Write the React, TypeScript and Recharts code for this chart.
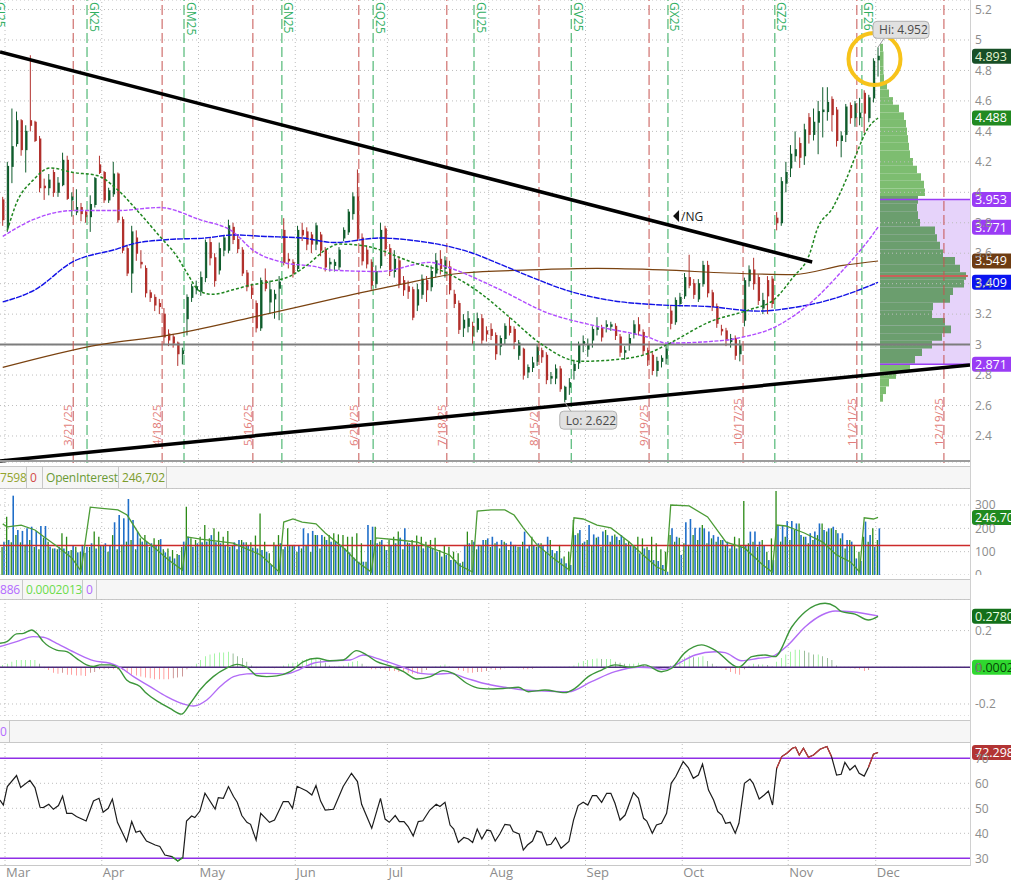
import React from 'react'
import { ComposedChart, Bar, Line, XAxis, YAxis, CartesianGrid, ReferenceLine, ReferenceArea, ReferenceDot, Cell } from 'recharts'

// x domain in bar index units (bar 0 = Feb 28)
const X0 = -0.59
const X1 = 209.96

// daily OHLC
const opens = [
  3.95, 3.77, 4.17, 4.32, 4.47, 4.28, 4.47, 4.46, 4.35, 4.04,
  4.03, 4.13, 4.00, 4.05, 4.21, 3.95, 3.87, 3.90, 3.87, 3.84,
  3.92, 4.18, 4.13, 3.95, 3.99, 4.12, 3.82, 3.63, 3.47, 3.70,
  3.54, 3.50, 3.34, 3.31, 3.27, 3.20, 3.07, 3.05, 3.01, 2.94,
  3.17, 3.31, 3.36, 3.35, 3.44, 3.67, 3.57, 3.49, 3.62, 3.62,
  3.77, 3.69, 3.62, 3.47, 3.37, 3.27, 3.11, 3.42, 3.28, 3.30,
  3.37, 3.75, 3.56, 3.54, 3.50, 3.75, 3.74, 3.72, 3.66, 3.72,
  3.62, 3.53, 3.52, 3.51, 3.70, 3.74, 3.86, 3.97, 3.70, 3.62,
  3.54, 3.40, 3.52, 3.76, 3.63, 3.48, 3.55, 3.42, 3.38, 3.36,
  3.26, 3.33, 3.42, 3.38, 3.47, 3.56, 3.50, 3.51, 3.33, 3.27,
  3.11, 3.12, 3.12, 3.10, 3.17, 3.09, 3.10, 3.06, 2.99, 3.04,
  3.12, 3.10, 2.93, 2.97, 2.82, 2.85, 2.89, 2.96, 2.93, 2.78,
  2.78, 2.84, 2.64, 2.72, 2.83, 2.88, 3.00, 2.97, 3.03, 3.10,
  3.11, 3.12, 3.12, 3.12, 3.05, 2.95, 3.00, 3.07, 3.13, 3.08,
  2.96, 2.93, 2.83, 2.89, 2.91, 3.22, 3.15, 3.27, 3.32, 3.44,
  3.40, 3.30, 3.40, 3.52, 3.34, 3.25, 3.10, 3.09, 3.02, 3.04,
  2.94, 3.16, 3.42, 3.49, 3.44, 3.24, 3.42, 3.43, 3.83, 3.80,
  4.06, 4.16, 4.24, 4.32, 4.24, 4.49, 4.38, 4.46, 4.53, 4.53,
  4.61, 4.54, 4.34, 4.38, 4.57, 4.49, 4.49, 4.65, 4.49, 4.62,
  4.87,
]
const highs = [
  3.97, 4.20, 4.55, 4.53, 4.48, 4.44, 4.90, 4.47, 4.37, 4.09,
  4.12, 4.15, 4.10, 4.26, 4.24, 4.00, 4.02, 3.93, 3.88, 3.98,
  4.10, 4.24, 4.14, 4.03, 4.20, 4.13, 3.84, 3.65, 3.78, 3.75,
  3.62, 3.52, 3.36, 3.33, 3.30, 3.24, 3.10, 3.07, 3.02, 2.98,
  3.33, 3.40, 3.42, 3.48, 3.69, 3.70, 3.60, 3.67, 3.72, 3.82,
  3.80, 3.72, 3.64, 3.49, 3.40, 3.29, 3.44, 3.50, 3.42, 3.36,
  3.45, 3.83, 3.60, 3.56, 3.78, 3.80, 3.77, 3.74, 3.80, 3.74,
  3.64, 3.57, 3.56, 3.64, 3.77, 3.89, 4.00, 4.15, 3.73, 3.65,
  3.56, 3.52, 3.80, 3.78, 3.66, 3.62, 3.58, 3.45, 3.42, 3.38,
  3.40, 3.46, 3.45, 3.52, 3.60, 3.62, 3.58, 3.55, 3.36, 3.29,
  3.20, 3.22, 3.15, 3.21, 3.20, 3.12, 3.14, 3.08, 3.06, 3.14,
  3.18, 3.12, 3.03, 2.98, 2.87, 2.92, 3.00, 2.98, 2.95, 2.82,
  2.87, 2.86, 2.73, 2.78, 2.90, 3.02, 3.06, 3.04, 3.12, 3.18,
  3.13, 3.16, 3.15, 3.14, 3.07, 2.99, 3.07, 3.16, 3.18, 3.10,
  2.98, 2.95, 2.92, 2.93, 2.99, 3.26, 3.31, 3.34, 3.47, 3.59,
  3.43, 3.43, 3.55, 3.55, 3.36, 3.27, 3.13, 3.11, 3.07, 3.06,
  3.03, 3.44, 3.52, 3.57, 3.46, 3.34, 3.45, 3.45, 3.87, 4.10,
  4.20, 4.31, 4.40, 4.36, 4.45, 4.52, 4.55, 4.60, 4.69, 4.69,
  4.63, 4.56, 4.40, 4.58, 4.59, 4.60, 4.62, 4.67, 4.64, 4.88,
  4.952,
]
const lows = [
  3.78, 3.74, 4.06, 4.30, 4.24, 4.13, 4.40, 4.33, 4.00, 3.95,
  3.98, 3.97, 3.97, 4.04, 3.95, 3.84, 3.85, 3.81, 3.80, 3.74,
  3.90, 4.12, 3.93, 3.93, 3.97, 3.80, 3.60, 3.45, 3.34, 3.55,
  3.50, 3.31, 3.28, 3.22, 3.20, 3.00, 2.99, 2.98, 2.86, 2.87,
  3.06, 3.28, 3.33, 3.32, 3.41, 3.52, 3.38, 3.46, 3.58, 3.60,
  3.66, 3.60, 3.45, 3.35, 3.30, 3.08, 3.09, 3.35, 3.20, 3.17,
  3.16, 3.52, 3.50, 3.44, 3.48, 3.68, 3.62, 3.60, 3.62, 3.58,
  3.48, 3.48, 3.48, 3.49, 3.68, 3.72, 3.82, 3.68, 3.52, 3.50,
  3.36, 3.37, 3.50, 3.58, 3.45, 3.44, 3.37, 3.32, 3.30, 3.16,
  3.22, 3.30, 3.28, 3.35, 3.44, 3.46, 3.44, 3.33, 3.24, 3.07,
  3.05, 3.08, 3.00, 3.08, 3.00, 3.02, 3.03, 2.90, 2.93, 3.00,
  3.06, 2.97, 2.90, 2.77, 2.78, 2.82, 2.86, 2.88, 2.74, 2.74,
  2.74, 2.69, 2.622, 2.67, 2.77, 2.84, 2.95, 2.92, 2.98, 3.06,
  3.02, 3.08, 3.09, 3.03, 2.92, 2.90, 2.96, 3.04, 3.06, 2.93,
  2.86, 2.80, 2.79, 2.85, 2.87, 3.10, 3.13, 3.25, 3.30, 3.37,
  3.30, 3.28, 3.38, 3.31, 3.22, 3.11, 3.06, 2.99, 2.98, 2.90,
  2.89, 3.12, 3.38, 3.36, 3.26, 3.20, 3.20, 3.24, 3.75, 3.78,
  4.00, 4.10, 4.20, 4.16, 4.18, 4.32, 4.34, 4.25, 4.36, 4.47,
  4.40, 4.30, 4.23, 4.33, 4.45, 4.43, 4.44, 4.39, 4.46, 4.59,
  4.76,
]
const closes = [
  3.82, 4.17, 4.30, 4.47, 4.28, 4.40, 4.44, 4.34, 4.03, 4.03,
  4.08, 4.00, 4.06, 4.21, 3.96, 3.97, 3.90, 3.86, 3.84, 3.92,
  4.09, 4.13, 3.95, 4.01, 4.12, 3.82, 3.62, 3.47, 3.74, 3.60,
  3.53, 3.34, 3.31, 3.26, 3.25, 3.05, 3.03, 3.01, 2.94, 2.96,
  3.31, 3.38, 3.38, 3.44, 3.67, 3.57, 3.42, 3.63, 3.70, 3.78,
  3.69, 3.63, 3.47, 3.38, 3.33, 3.11, 3.42, 3.37, 3.36, 3.33,
  3.41, 3.54, 3.55, 3.47, 3.75, 3.72, 3.66, 3.66, 3.78, 3.62,
  3.51, 3.54, 3.54, 3.62, 3.75, 3.87, 3.97, 3.70, 3.55, 3.53,
  3.39, 3.48, 3.75, 3.63, 3.48, 3.56, 3.40, 3.36, 3.35, 3.18,
  3.36, 3.43, 3.36, 3.48, 3.55, 3.50, 3.55, 3.36, 3.27, 3.10,
  3.16, 3.17, 3.06, 3.17, 3.03, 3.07, 3.06, 2.94, 3.04, 3.12,
  3.08, 3.02, 3.01, 2.80, 2.85, 2.88, 2.98, 2.92, 2.77, 2.79,
  2.84, 2.71, 2.72, 2.75, 2.87, 3.00, 3.02, 3.00, 3.10, 3.11,
  3.05, 3.13, 3.13, 3.06, 2.95, 2.96, 3.04, 3.13, 3.09, 2.96,
  2.90, 2.83, 2.89, 2.91, 2.97, 3.14, 3.29, 3.31, 3.44, 3.39,
  3.33, 3.40, 3.52, 3.34, 3.25, 3.14, 3.09, 3.03, 3.04, 2.93,
  3.00, 3.42, 3.49, 3.40, 3.29, 3.29, 3.32, 3.27, 3.80, 4.07,
  4.13, 4.25, 4.28, 4.23, 4.41, 4.38, 4.46, 4.53, 4.54, 4.59,
  4.51, 4.34, 4.37, 4.56, 4.49, 4.58, 4.52, 4.52, 4.62, 4.86,
  4.893,
]

// moving averages [bar, price]
const maGreen = [
  [1, 3.75], [3, 3.93], [6.6, 4.08], [10.3, 4.16], [15.3, 4.13], [20.5, 4.11], [24.8, 4.02], [29.8, 3.86],
  [34.1, 3.71], [37.8, 3.58], [40, 3.47], [42.8, 3.35], [45.6, 3.33], [50, 3.36], [53.7, 3.39], [57.4, 3.41],
  [62.4, 3.45], [66, 3.52], [70, 3.62], [73, 3.66], [78.2, 3.65], [89, 3.54], [96.4, 3.47], [103.6, 3.34],
  [110, 3.18], [116.6, 3.01], [125.3, 2.89], [132.5, 2.9], [139.9, 2.94], [144.2, 3.0], [153.5, 3.15],
  [162.2, 3.23], [167.2, 3.29], [171.5, 3.44], [175.2, 3.6], [176.7, 3.75], [180.2, 3.9], [183.3, 4.1],
  [185.4, 4.26], [187.6, 4.41], [190, 4.488],
]
const maPurple = [
  [0, 3.71], [6.6, 3.82], [15.3, 3.88], [24.8, 3.88], [34.1, 3.9], [42.8, 3.82], [50, 3.74], [54.3, 3.62],
  [60.8, 3.54], [68.2, 3.51], [71, 3.49], [81.9, 3.48], [92.7, 3.54], [96.4, 3.51], [107.3, 3.37],
  [118.1, 3.21], [129, 3.12], [139.9, 3.05], [144.2, 3.01], [157.2, 3.03], [160.7, 3.05], [166.5, 3.1],
  [175.2, 3.27], [182.4, 3.49], [188.3, 3.7], [190, 3.771],
]
const maBlue = [
  [0, 3.28], [7, 3.36], [15, 3.54], [25, 3.63], [28, 3.66], [36, 3.69], [44, 3.7], [50, 3.72], [57, 3.71],
  [65, 3.7], [72, 3.67], [82, 3.7], [90, 3.68], [96, 3.65], [102, 3.6], [107, 3.54], [115, 3.44], [122, 3.36],
  [132, 3.29], [143, 3.26], [153, 3.25], [164, 3.22], [171, 3.24], [179, 3.29], [186, 3.36], [190, 3.409],
]
const maBrown = [
  [0, 2.85], [21.1, 3.0], [35.7, 3.06], [54.3, 3.18], [73.2, 3.31], [85.6, 3.39], [99.9, 3.47], [114.5, 3.49],
  [129, 3.5], [143.3, 3.49], [157.2, 3.47], [171.5, 3.46], [182.4, 3.52], [190, 3.549],
]

// option expiries (red) and contract rolls (green)
const expiryX = [15.3, 34.6, 54.3, 77.3, 96.4, 116.4, 140.3, 160.7, 185.4, 204.3]
const expiryLabels = ['3/21/25', '4/18/25', '5/16/25', '6/20/25', '7/18/25', '8/15/2', '9/19/25', '10/17/25', '11/21/25', '12/19/25']
const rollX = [18.3, 39.35, 60.6, 80.4, 102.3, 123.4, 144.4, 167.6, 186.5]
const rollLabels = ['GK25', 'GM25', 'GN25', 'GQ25', 'GU25', 'GV25', 'GX25', 'GZ25', 'GF26']

const monthStart = [1, 22, 43, 64, 84, 106, 127, 148, 171, 190]
const monthNames = ['Mar', 'Apr', 'May', 'Jun', 'Jul', 'Aug', 'Sep', 'Oct', 'Nov', 'Dec']
const priceTicks = [2.4, 2.6, 2.8, 3, 3.2, 3.4, 3.6, 3.8, 4, 4.2, 4.4, 4.6, 4.8, 5, 5.2]

// volume profile
const profLevels = [
  4.95, 4.9, 4.85, 4.8, 4.75, 4.7, 4.65, 4.6, 4.55, 4.5, 4.45, 4.4, 4.35, 4.3, 4.25, 4.2, 4.15, 4.1, 4.05, 4.0,
  3.95, 3.9, 3.85, 3.8, 3.75, 3.7, 3.65, 3.6, 3.55, 3.5, 3.45, 3.4, 3.35, 3.3, 3.25, 3.2, 3.15, 3.1, 3.05, 3.0,
  2.95, 2.9, 2.85, 2.8, 2.75, 2.7, 2.65,
]
const profVolume = [
  3, 3.5, 3.5, 3.5, 4, 7, 9, 13, 19, 24, 26, 27, 28, 29, 30, 33, 37, 41, 44, 45,
  38, 37, 38, 40, 55, 57, 60, 63, 75, 80, 86, 84, 73, 70, 53, 52, 65, 71, 62, 52,
  42, 35, 30, 16, 9, 6, 3,
]
const vaHigh = 3.953
const vaLow = 2.871
const poc = 3.45

// volume (thousands)
const volBlue = [
  143, 150, 340, 193, 189, 200, 207, 189, 210, 210, 121, 114, 121, 114, 103, 129, 97, 129, 121, 136,
  114, 129, 136, 124, 226, 257, 243, 326, 236, 186, 143, 143, 136, 129, 154, 97, 79, 71, 86, 143,
  164, 121, 136, 140, 143, 171, 140, 136, 129, 121, 140, 150, 140, 126, 117, 114, 107, 100, 43, 126,
  136, 121, 124, 129, 129, 200, 179, 189, 171, 171, 150, 143, 143, 129, 114, 97, 74, 57, 57, 214,
  207, 136, 150, 107, 129, 136, 160, 200, 136, 129, 129, 114, 129, 114, 100, 79, 86, 64, 64, 50,
  129, 136, 143, 129, 150, 157, 164, 143, 150, 136, 143, 129, 121, 186, 129, 129, 136, 129, 164, 107,
  103, 71, 50, 43, 171, 193, 143, 214, 174, 164, 186, 171, 168, 164, 171, 136, 129, 121, 93, 114,
  107, 64, 60, 43, 14, 200, 164, 86, 226, 240, 203, 203, 200, 186, 171, 164, 150, 143, 129, 114,
  121, 129, 186, 186, 143, 129, 64, 64, 214, 214, 231, 231, 221, 171, 164, 179, 186, 221, 193, 200,
  207, 179, 179, 150, 143, 71, 60, 229, 171, 121, 200,
]
const volGreen = [
  120, 250, 140, 171, 140, 130, 150, 120, 110, 160, 143, 114, 110, 179, 164, 107, 121, 100, 95, 120,
  186, 164, 129, 100, 171, 110, 130, 143, 150, 110, 157, 171, 120, 157, 150, 110, 114, 107, 90, 120,
  293, 157, 150, 164, 214, 157, 200, 186, 164, 189, 129, 110, 150, 140, 140, 169, 264, 143, 93, 140,
  171, 110, 200, 129, 100, 114, 129, 100, 171, 114, 164, 171, 179, 174, 171, 164, 164, 179, 136, 57,
  150, 207, 143, 129, 150, 164, 186, 110, 140, 150, 169, 164, 143, 150, 160, 107, 129, 121, 100, 93,
  57, 186, 150, 110, 129, 150, 120, 136, 114, 143, 107, 129, 121, 143, 114, 164, 121, 136, 100, 150,
  93, 129, 79, 100, 236, 179, 136, 150, 129, 160, 121, 193, 143, 174, 150, 157, 143, 129, 164, 157,
  121, 164, 136, 110, 100, 171, 143, 160, 136, 129, 171, 150, 214, 136, 157, 143, 150, 129, 114, 164,
  157, 317, 136, 143, 121, 150, 100, 157, 360, 143, 164, 150, 193, 221, 164, 136, 150, 171, 221, 186,
  200, 193, 157, 114, 150, 129, 100, 164, 143, 200, 150,
]
const volAvg = 126
const openInterest = [
  [0, 219], [1, 206], [4, 214], [7, 193], [9, 163], [12, 120], [15, 73], [17, 17], [19, 291], [21, 287],
  [25, 279], [27, 257], [30, 163], [33, 116], [36, 64], [39, 21], [40, 163], [43, 154], [50, 137], [56, 86],
  [60, 13], [61, 227], [63, 240], [65, 227], [68, 219], [70, 180], [74, 116], [77, 56], [80, 13], [81, 159],
  [86, 150], [90, 141], [93, 116], [97, 86], [99, 43], [102, 13], [103, 274], [106, 279], [109, 279], [111, 257],
  [113, 202], [116, 129], [120, 64], [123, 21], [124, 245], [126, 240], [129, 214], [132, 202], [136, 141],
  [139, 86], [142, 34], [144, 17], [145, 300], [149, 296], [153, 249], [157, 141], [161, 116], [165, 43],
  [167, 13], [168, 214], [170, 210], [174, 180], [178, 141], [181, 86], [184, 56], [186, 13], [187, 245],
  [189, 240], [190, 246.7],
]

// MACD
const macdHist = [
  0.013, 0.02, 0.03, 0.04, 0.04, 0.04, 0.04, 0.04, 0.02, -0.005,
  -0.015, -0.03, -0.035, -0.03, -0.04, -0.04, -0.045, -0.045, -0.048, -0.03,
  -0.025, -0.01, -0.01, -0.008, -0.01, -0.012, -0.015, -0.03, -0.04, -0.045,
  -0.05, -0.055, -0.06, -0.065, -0.065, -0.065, -0.065, -0.06, -0.055, -0.05,
  -0.01, 0.005, 0.02, 0.04, 0.06, 0.07, 0.075, 0.08, 0.08, 0.085,
  0.075, 0.06, 0.05, 0.03, 0.01, -0.005, 0.0, -0.003, -0.002, -0.005,
  0.0, 0.01, 0.02, 0.025, 0.03, 0.04, 0.045, 0.05, 0.05, 0.04,
  0.025, 0.01, 0.005, 0.008, 0.01, 0.025, 0.03, 0.035, 0.02, 0.005,
  -0.01, -0.01, -0.008, -0.012, -0.02, -0.02, -0.025, -0.025, -0.03, -0.035,
  -0.035, -0.03, -0.015, 0.0, 0.005, 0.01, 0.015, 0.005, 0.0, -0.015,
  -0.02, -0.03, -0.03, -0.025, -0.025, -0.02, -0.01, -0.015, -0.012, -0.005,
  -0.004, -0.003, -0.005, -0.01, -0.01, -0.008, -0.004, -0.002, 0.0, 0.0,
  -0.002, 0.0, 0.0, 0.004, 0.01, 0.025, 0.035, 0.04, 0.045, 0.048,
  0.045, 0.045, 0.045, 0.03, 0.025, 0.02, 0.02, 0.02, 0.025, 0.015,
  0.005, -0.003, -0.005, -0.005, 0.0, 0.01, 0.025, 0.045, 0.055, 0.065,
  0.055, 0.055, 0.06, 0.035, 0.02, 0.005, -0.005, -0.015, -0.025, -0.035,
  -0.04, -0.01, 0.01, 0.02, 0.015, 0.015, 0.012, 0.005, 0.03, 0.05,
  0.07, 0.085, 0.095, 0.095, 0.09, 0.08, 0.07, 0.07, 0.06, 0.05,
  0.04, 0.01, 0.002, 0.0, -0.005, -0.008, -0.01, -0.02, -0.015, 0.0,
  0.0002,
]
const macdLine = [
  [-0.59, 0.131], [0.9, 0.14], [3, 0.182], [4.5, 0.185], [6.3, 0.203], [7.4, 0.185], [8.8, 0.14], [11.7, 0.094],
  [13.9, 0.085], [16, 0.049], [18.2, 0.013], [19.7, 0.004], [21.1, 0.013], [23.3, 0.013], [25.1, -0.005],
  [26.9, -0.069], [29.8, -0.105], [31.2, -0.142], [34.1, -0.193], [36.3, -0.224], [38.8, -0.255], [40.7, -0.197],
  [42.8, -0.124], [45.7, -0.051], [48.6, -0.005], [50.8, 0.016], [53.3, -0.005], [55.1, -0.045], [57.3, -0.051],
  [59.5, -0.047], [62.4, -0.024], [65.3, 0.031], [68.2, 0.049], [71, 0.036], [73.9, 0.04], [76.8, 0.091],
  [79, 0.067], [81.2, 0.031], [84.1, 0.007], [87, -0.024], [89.9, -0.064], [92.8, -0.051], [95.6, -0.018],
  [97.8, -0.033], [100.7, -0.087], [103.6, -0.115], [106.5, -0.118], [109, -0.115], [111.9, -0.109],
  [114.1, -0.133], [117.7, -0.124], [122, -0.138], [124.2, -0.115], [127.1, -0.051], [130, -0.015],
  [132.9, 0.013], [136.5, 0.0], [139.4, 0.013], [143, -0.024], [145.2, -0.005], [148.1, 0.08], [151.7, 0.122],
  [154.6, 0.094], [159.7, 0.0], [162.6, 0.058], [165.5, 0.067], [167.6, 0.058], [171.3, 0.221], [174.2, 0.303],
  [178.5, 0.349], [180.7, 0.331], [182.1, 0.303], [185, 0.29], [187.9, 0.258], [190, 0.278],
]
const macdSignal = [
  [-0.59, 0.113], [3, 0.14], [6.6, 0.167], [8.8, 0.164], [11.7, 0.131], [16, 0.076], [19.7, 0.036], [23.3, 0.022],
  [25.5, 0.0], [28.4, -0.051], [32, -0.105], [35.6, -0.16], [39.2, -0.2], [41.4, -0.211], [44.3, -0.178],
  [47.2, -0.105], [50.1, -0.051], [53, -0.036], [57.3, -0.033], [61.6, -0.036], [64.5, -0.011], [67.4, 0.022],
  [71, 0.034], [75.4, 0.04], [78.3, 0.067], [81.2, 0.049], [84.1, 0.025], [87, 0.0], [90.6, -0.033],
  [94.2, -0.038], [97.1, -0.033], [100.7, -0.06], [104.3, -0.087], [109, -0.109], [113.4, -0.124],
  [117.7, -0.129], [122.8, -0.133], [127.8, -0.078], [132.9, -0.024], [138, 0.0], [141.6, -0.005],
  [143.8, -0.011], [146.7, 0.022], [150.3, 0.067], [154.6, 0.085], [156.8, 0.08], [160.4, 0.036], [164, 0.049],
  [166.9, 0.058], [170.5, 0.122], [174.2, 0.221], [177.8, 0.285], [180.7, 0.307], [184.3, 0.303], [190, 0.28],
]

// RSI
const rsi = [
  [-0.59, 53.3], [0.13, 51.3], [1, 58.7], [3, 63.1], [3.9, 58.3], [5.9, 61.2], [7, 58.3], [8.1, 50.4], [8.8, 50.3],
  [10, 51.6], [11, 49.6], [12.1, 51.1], [13, 54.9], [13.9, 48], [15, 48], [16, 46.7], [18.1, 44.9], [19.7, 52.9],
  [20.9, 54], [21.8, 48.4], [22.9, 50], [23.8, 53.7], [24.9, 44.4], [26.9, 36.7], [28, 44.7], [28.9, 40.4],
  [29.8, 40.9], [31.2, 36.9], [33.1, 35.3], [34.1, 34.7], [35.2, 31.3], [36.7, 30.7], [38, 28.9], [39.1, 30.3],
  [39.9, 44.9], [41, 46.9], [41.7, 46.3], [42.8, 48.9], [43.9, 56], [46.1, 49.7], [46.8, 54.3], [47.9, 54],
  [49, 58.7], [50.1, 54.7], [50.9, 52.4], [51.9, 47.1], [53, 44.4], [53.8, 43.6], [55, 37.3], [56, 48],
  [57.9, 44.4], [59, 45.3], [60.9, 52.7], [62, 52.7], [62.9, 50], [63.9, 58.8], [66, 56.9], [67.1, 55.3],
  [68, 59.1], [69, 52.9], [70, 49.3], [71.8, 49.6], [73.9, 58.7], [75.7, 64], [77, 60.7], [77.9, 51.6],
  [80.1, 42], [82, 54], [83, 45.7], [83.9, 44.4], [85.2, 47.1], [86.1, 44.7], [87.1, 44.7], [88, 42.7],
  [89.1, 38.9], [90.2, 44.7], [91.2, 45], [92.7, 49.3], [94.1, 51.6], [94.9, 50.7], [96, 52.4], [97.1, 43.3],
  [97.9, 41.7], [98.9, 36.3], [100.1, 38.3], [101.1, 37.7], [102, 36.3], [103, 41.7], [104, 37.7], [105.1, 41.3],
  [105.9, 41], [106.9, 36.9], [107.9, 39.7], [109, 43.6], [110.1, 43.3], [110.8, 40.7], [112.1, 39.7],
  [113, 33.3], [113.9, 35.3], [115, 36.9], [115.9, 40.9], [117, 40.4], [118.1, 35.3], [119, 35.6], [120, 38.3],
  [121.2, 34], [122.9, 36.7], [123.9, 45.3], [124.9, 51.1], [126, 52.4], [127, 51.3], [128, 55.1], [128.9, 55.1],
  [130, 52.4], [131.1, 56], [132, 56], [132.9, 52], [134, 45.3], [135.1, 47.3], [136.9, 56.3], [138, 54],
  [139.1, 46], [139.8, 44.9], [141, 40], [141.9, 43.3], [143, 44], [144.1, 48], [145.1, 60], [146.1, 62.7],
  [147.7, 68.7], [148.8, 66.3], [149.9, 62], [151, 63.3], [151.9, 67.7], [153.2, 57.3], [154.3, 53.3],
  [155.2, 48.7], [156.1, 47.3], [156.9, 44], [157.9, 44.4], [159, 40], [159.8, 44], [161, 60], [162.2, 61.7],
  [162.9, 60], [164.2, 53.7], [165.3, 55.3], [166.2, 56.9], [167.1, 51.3], [168, 66], [169.1, 70.7], [170.2, 72],
  [171.4, 74], [172.1, 74.4], [172.9, 71.3], [173.8, 74], [174.9, 70.4], [176, 71.3], [177.4, 73.6], [178.9, 74.7],
  [179.9, 70.7], [181, 63.3], [182, 63.6], [182.8, 68.4], [183.9, 65.3], [185, 67.1], [185.9, 64], [187, 62.9],
  [187.9, 66.3], [189, 71.6], [190, 72.3],
]

const pts = (arr: number[][]) => arr.map(([j, v]) => ({ j, v }))

const GRID = '#bdbdbd'
const AXIS_TICK = { fontSize: 12, fill: '#8c8c8c' }

const Candle = (props: any) => {
  const { x, width, payload } = props
  let { y, height } = props
  if (height < 0) { y = y + height; height = -height }
  const { o, h, l, c } = payload
  const up = c >= o
  const k = h - l > 0 ? height / (h - l) : 0
  const yO = y + (h - o) * k
  const yC = y + (h - c) * k
  const top = Math.min(yO, yC)
  const bh = Math.max(Math.abs(yC - yO), 1)
  const cx = x + width / 2
  const col = up ? '#0f5c2c' : '#b1302c'
  return (
    <g>
      <line x1={cx} x2={cx} y1={y} y2={y + height} stroke={col} strokeWidth={1} />
      <rect x={x + 0.5} y={top} width={Math.max(width - 1, 1)} height={bh} fill={up ? '#ffffff' : col} stroke={col} strokeWidth={1} />
    </g>
  )
}

const Tag = (props: any) => {
  const { viewBox, t, bg, fg = '#ffffff' } = props
  if (!viewBox) return null
  const x = viewBox.x + viewBox.width + 2
  const y = viewBox.y
  return (
    <g>
      <rect x={x} y={y - 7.5} width={44} height={15} rx={3} fill={bg} />
      <text x={x + 3} y={y + 4.5} fill={fg} fontSize={12.5}>{t}</text>
    </g>
  )
}

const ExpLabel = (props: any) => {
  const { viewBox, t } = props
  if (!viewBox) return null
  return <text transform={`translate(${viewBox.x - 1},446) rotate(-90)`} fill="#e27c78" fontSize={11.5}>{t}</text>
}

const RollLabel = (props: any) => {
  const { viewBox, t, dx = 2.5 } = props
  if (!viewBox) return null
  return <text transform={`translate(${viewBox.x + dx},2) rotate(90)`} fill="#2fae5f" fontSize={12}>{t}</text>
}

const HiLabel = (props: any) => {
  const { viewBox } = props
  if (!viewBox) return null
  const { x, y } = viewBox
  return (
    <g>
      <line x1={x} y1={y} x2={x + 6} y2={y - 9} stroke="#9a9a9a" />
      <rect x={x - 5} y={y - 26} width={56} height={17} rx={4} fill="#e1e1e1" stroke="#b0b0b0" />
      <text x={x + 1} y={y - 13} fontSize={12} fill="#4a4a4a">Hi: 4.952</text>
    </g>
  )
}

const LoLabel = (props: any) => {
  const { viewBox } = props
  if (!viewBox) return null
  const { x, y } = viewBox
  return (
    <g>
      <line x1={x} y1={y} x2={x + 6} y2={y + 9} stroke="#9a9a9a" />
      <rect x={x - 5} y={y + 9} width={57} height={18} rx={4} fill="#e1e1e1" stroke="#b0b0b0" />
      <text x={x + 1} y={y + 22.5} fontSize={12} fill="#4a4a4a">Lo: 2.622</text>
    </g>
  )
}

const NgLabel = (props: any) => {
  const { viewBox } = props
  if (!viewBox) return null
  const { x, y } = viewBox
  return (
    <g>
      <path d={`M${x},${y} L${x + 6},${y - 6} L${x + 6},${y + 6} Z`} fill="#111" />
      <text x={x + 8} y={y + 4.5} fontSize={12} fill="#222">/NG</text>
    </g>
  )
}

const MonthTick = (props: any) => {
  const { x, y, payload } = props
  const i = monthStart.findIndex((m) => Math.abs(m - 0.5 - payload.value) < 0.01)
  return <text x={x + 1} y={y} dy={9} fill="#8c8c8c" fontSize={13}>{monthNames[i] ?? ''}</text>
}

const monthGrid = (key: string) =>
  monthStart.map((m) => (
    <ReferenceLine key={key + m} x={m - 0.5} stroke={GRID} strokeDasharray="1 3" />
  ))

const headerStyle: React.CSSProperties = {
  position: 'absolute', left: 0, width: 970, background: '#f6f6f6',
  borderTop: '1px solid #c8c8c8', borderBottom: '1px solid #c8c8c8',
  display: 'flex', fontSize: 12, lineHeight: 1, letterSpacing: -0.2,
}
const cell = (w: number, color: string): React.CSSProperties => ({
  width: w, color, borderRight: '1px solid #c8c8c8', display: 'flex', alignItems: 'center', paddingLeft: 3, boxSizing: 'border-box', whiteSpace: 'nowrap',
})

const lineProps = { dot: false, activeDot: false, legendType: 'none' as const, isAnimationActive: false }

export default function App() {
  const bars = opens.map((o, j) => ({ j, o, h: highs[j], l: lows[j], c: closes[j], range: [lows[j], highs[j]] }))
  const vol = volBlue.map((v, j) => ({ j, v, g: volGreen[j] }))
  const hist = macdHist.map((h, j) => ({ j, h }))
  const profile = profLevels.map((p, i) => ({ p, w: profVolume[i] }))
  const rsiPts = pts(rsi)
  const rsiHot1 = rsiPts.filter((d) => d.j >= 168 && d.j <= 180)
  const rsiHot2 = rsiPts.filter((d) => d.j >= 187.9)
  const rsiCold = rsiPts.filter((d) => d.j >= 36.7 && d.j <= 39.1)

  const histColor = (i: number) => {
    const h = macdHist[i]
    const p = i > 0 ? macdHist[i - 1] : 0
    if (h >= 0) return h >= p ? '#2be62b' : '#0c630c'
    return h <= p ? '#ff1e1e' : '#870808'
  }

  return (
    <div style={{ position: 'relative', width: 1011, height: 882, overflow: 'hidden', background: '#ffffff', fontFamily: "'Open Sans', 'Noto Sans', sans-serif" }}>
      <style>{'body{margin:0}'}</style>

      {/* volume profile, drawn under the price chart */}
      <div style={{ position: 'absolute', left: 880, top: 0 }}>
        <ComposedChart layout="vertical" width={90} height={463} data={profile} margin={{ top: 0, right: 0, bottom: 0, left: 0 }}>
          <XAxis type="number" domain={[0, 90]} hide allowDataOverflow />
          <YAxis type="number" dataKey="p" domain={[2.2226, 5.2626]} reversed hide allowDataOverflow />
          <ReferenceArea y1={vaLow} y2={vaHigh} fill="#e6d3fa" fillOpacity={1} stroke="none" />
          <Bar dataKey="w" barSize={7.6} isAnimationActive={false}>
            {profile.map((d, i) => (
              <Cell key={i} fill={d.p <= vaHigh && d.p >= vaLow ? '#6b9e6e' : '#7dbd70'} />
            ))}
          </Bar>
        </ComposedChart>
      </div>

      {/* price */}
      <div style={{ position: 'absolute', left: 0, top: 0 }}>
        <ComposedChart width={1011} height={463} data={bars} margin={{ top: 0, right: 0, bottom: 0, left: 0 }}>
          <XAxis type="number" dataKey="j" domain={[X0, X1]} hide allowDataOverflow />
          <YAxis orientation="right" type="number" domain={[2.2226, 5.2626]} ticks={priceTicks} interval={0} width={41}
            axisLine={false} tickLine={false} tickSize={3} tickMargin={2} tick={AXIS_TICK} allowDataOverflow />
          <CartesianGrid vertical={false} stroke={GRID} strokeDasharray="1 3" />
          {monthGrid('pm')}
          <ReferenceLine y={3} stroke="#7d7d7d" strokeWidth={2} />
          {expiryX.map((x, i) => (
            <ReferenceLine key={'e' + i} x={x} stroke="#c65350" strokeDasharray="10 4" label={<ExpLabel t={expiryLabels[i]} />} />
          ))}
          {rollX.map((x, i) => (
            <ReferenceLine key={'r' + i} x={x} stroke="#2eaa5a" strokeDasharray="10 4" label={<RollLabel t={rollLabels[i]} />} />
          ))}
          <ReferenceLine x={X0} stroke="none" label={<RollLabel t="GJ25" dx={-4} />} />
          <ReferenceLine segment={[{ x: 190.43, y: vaHigh }, { x: X1, y: vaHigh }]} stroke="#9a3cf5" strokeWidth={1.5} />
          <ReferenceLine segment={[{ x: 190.43, y: vaLow }, { x: X1, y: vaLow }]} stroke="#9a3cf5" strokeWidth={1.5} />
          <ReferenceLine segment={[{ x: 190.43, y: poc }, { x: 209.5, y: poc }]} stroke="#c8605a" strokeWidth={2} />
          <Line data={pts(maBrown)} dataKey="v" type="monotone" stroke="#7a4210" strokeWidth={1.2} {...lineProps} />
          <Line data={pts(maBlue)} dataKey="v" type="monotone" stroke="#1212e6" strokeWidth={1.4} strokeDasharray="6 1" {...lineProps} />
          <Line data={pts(maPurple)} dataKey="v" type="monotone" stroke="#b04cff" strokeWidth={1.4} strokeDasharray="4 1.5" {...lineProps} />
          <Line data={pts(maGreen)} dataKey="v" type="monotone" stroke="#1f861f" strokeWidth={1.5} strokeDasharray="3 2" {...lineProps} />
          <Bar dataKey="range" barSize={3.4} shape={<Candle />} isAnimationActive={false} />
          <ReferenceLine segment={[{ x: X0, y: 4.921 }, { x: 175.7, y: 3.542 }]} stroke="#000" strokeWidth={3.5} />
          <ReferenceLine segment={[{ x: X0, y: 2.236 }, { x: X1, y: 2.866 }]} stroke="#000" strokeWidth={3.5} />
          <ReferenceDot x={189.23} y={4.875} r={26} fill="none" stroke="#f7c31a" strokeWidth={4} />
          <ReferenceDot x={190} y={4.952} r={0} fill="none" stroke="none" label={<HiLabel />} />
          <ReferenceDot x={122} y={2.622} r={0} fill="none" stroke="none" label={<LoLabel />} />
          <ReferenceDot x={145.5} y={3.844} r={0} fill="none" stroke="none" label={<NgLabel />} />
          <ReferenceLine y={4.893} stroke="none" label={<Tag t="4.893" bg="#174f26" fg="#e4f4cf" />} />
          <ReferenceLine y={4.488} stroke="none" label={<Tag t="4.488" bg="#218a21" />} />
          <ReferenceLine y={3.953} stroke="none" label={<Tag t="3.953" bg="#9a3cf5" />} />
          <ReferenceLine y={3.771} stroke="none" label={<Tag t="3.771" bg="#9a3cf5" />} />
          <ReferenceLine y={3.549} stroke="none" label={<Tag t="3.549" bg="#6e3c12" />} />
          <ReferenceLine y={3.409} stroke="none" label={<Tag t="3.409" bg="#0a14f0" />} />
          <ReferenceLine y={2.871} stroke="none" label={<Tag t="2.871" bg="#9a3cf5" />} />
        </ComposedChart>
      </div>
      <div style={{ position: 'absolute', left: 0, top: 460, width: 970, height: 2, background: '#9c9c9c' }} />

      {/* volume header */}
      <div style={{ ...headerStyle, top: 466, height: 21 }}>
        <div style={{ ...cell(27, '#93a52e'), paddingLeft: 0 }}>7598</div>
        <div style={cell(16, '#d24a4a')}>0</div>
        <div style={cell(76, '#6a9a35')}>OpenInterest</div>
        <div style={cell(48, '#7c9c2c')}>246,702</div>
      </div>

      {/* volume */}
      <div style={{ position: 'absolute', left: 0, top: 488 }}>
        <ComposedChart width={1011} height={87} data={vol} margin={{ top: 0, right: 0, bottom: 0, left: 0 }} barGap={0.5}>
          <XAxis type="number" dataKey="j" domain={[X0, X1]} hide allowDataOverflow />
          <YAxis orientation="right" type="number" domain={[0, 372.9]} ticks={[0, 100, 200, 300]} interval={0} width={41}
            axisLine={false} tickLine={false} tickSize={3} tickMargin={2} tick={AXIS_TICK} allowDataOverflow />
          <CartesianGrid vertical={false} stroke={GRID} strokeDasharray="1 3" />
          {monthGrid('vm')}
          <Bar dataKey="g" fill="#2b8a16" barSize={1.3} isAnimationActive={false} />
          <Bar dataKey="v" fill="#1f6ec9" barSize={1.6} isAnimationActive={false} />
          <ReferenceLine y={volAvg} stroke="#cc2a2a" strokeWidth={1.5} />
          <Line data={pts(openInterest)} dataKey="v" type="linear" stroke="#4c9c36" strokeWidth={1.3} {...lineProps} />
          <ReferenceLine y={246.702} stroke="none" label={<Tag t="246.702" bg="#1f8a1f" />} />
        </ComposedChart>
      </div>

      {/* MACD header */}
      <div style={{ ...headerStyle, top: 579, height: 19 }}>
        <div style={{ ...cell(23, '#b36bff'), paddingLeft: 0 }}>886</div>
        <div style={cell(60, '#6cdc4c')}>0.0002013</div>
        <div style={cell(14, '#b36bff')}>0</div>
      </div>

      {/* MACD */}
      <div style={{ position: 'absolute', left: 0, top: 599 }}>
        <ComposedChart width={1011} height={117} data={hist} margin={{ top: 0, right: 0, bottom: 0, left: 0 }}>
          <XAxis type="number" dataKey="j" domain={[X0, X1]} hide allowDataOverflow />
          <YAxis orientation="right" type="number" domain={[-0.2654, 0.3722]} ticks={[-0.2, 0, 0.2]} interval={0} width={41}
            axisLine={false} tickLine={false} tickSize={3} tickMargin={2} tick={AXIS_TICK} allowDataOverflow />
          <CartesianGrid vertical={false} stroke={GRID} strokeDasharray="1 3" />
          {monthGrid('mm')}
          <ReferenceLine y={0} stroke="#4b2a7a" strokeWidth={1.5} />
          <Bar dataKey="h" barSize={1.6} isAnimationActive={false}>
            {hist.map((d, i) => <Cell key={i} fill={histColor(i)} />)}
          </Bar>
          <Line data={pts(macdSignal)} dataKey="v" type="monotone" stroke="#b26cf6" strokeWidth={1.4} {...lineProps} />
          <Line data={pts(macdLine)} dataKey="v" type="monotone" stroke="#3c963a" strokeWidth={1.4} {...lineProps} />
          <ReferenceLine y={0.27809} stroke="none" label={<Tag t="0.27809" bg="#13701a" fg="#e8ffe0" />} />
          <ReferenceLine y={0.0002} stroke="none" label={<Tag t="0.0002" bg="#2fd82f" fg="#064406" />} />
        </ComposedChart>
      </div>

      {/* RSI header */}
      <div style={{ ...headerStyle, top: 720, height: 21 }}>
        <div style={{ ...cell(10, '#b36bff'), paddingLeft: 0 }}>0</div>
      </div>

      {/* RSI */}
      <div style={{ position: 'absolute', left: 0, top: 742 }}>
        <ComposedChart width={1011} height={140} data={rsiPts} margin={{ top: 0, right: 0, bottom: 0, left: 0 }}>
          <XAxis type="number" dataKey="j" domain={[X0, X1]} ticks={monthStart.map((m) => m - 0.5)} interval={0}
            height={17} axisLine={false} tickLine={false} tickSize={3} tickMargin={0} tick={<MonthTick />} allowDataOverflow />
          <YAxis orientation="right" type="number" domain={[27.32, 76.52]} ticks={[30, 40, 50, 60, 70]} interval={0} width={41}
            axisLine={false} tickLine={false} tickSize={3} tickMargin={2} tick={AXIS_TICK} allowDataOverflow />
          <CartesianGrid vertical={false} horizontalValues={[40, 50, 60]} stroke={GRID} strokeDasharray="1 3" />
          {monthGrid('rm')}
          <ReferenceLine y={70} stroke="#8f2ee6" strokeWidth={1.5} />
          <ReferenceLine y={30} stroke="#8f2ee6" strokeWidth={1.5} />
          <Line dataKey="v" type="linear" stroke="#1c1c1c" strokeWidth={1.2} {...lineProps} />
          <Line data={rsiHot1} dataKey="v" type="linear" stroke="#c43b3b" strokeWidth={1.2} {...lineProps} />
          <Line data={rsiHot2} dataKey="v" type="linear" stroke="#c43b3b" strokeWidth={1.2} {...lineProps} />
          <Line data={rsiCold} dataKey="v" type="linear" stroke="#2e9a2e" strokeWidth={1.2} {...lineProps} />
          <ReferenceLine y={72.2989} stroke="none" label={<Tag t="72.2989" bg="#b23434" />} />
        </ComposedChart>
      </div>
      <div style={{ position: 'absolute', left: 0, top: 865, width: 970, height: 1, background: '#c8c8c8' }} />
      <div style={{ position: 'absolute', left: 970, top: 0, width: 1, height: 866, background: '#d0d0d0' }} />
    </div>
  )
}
